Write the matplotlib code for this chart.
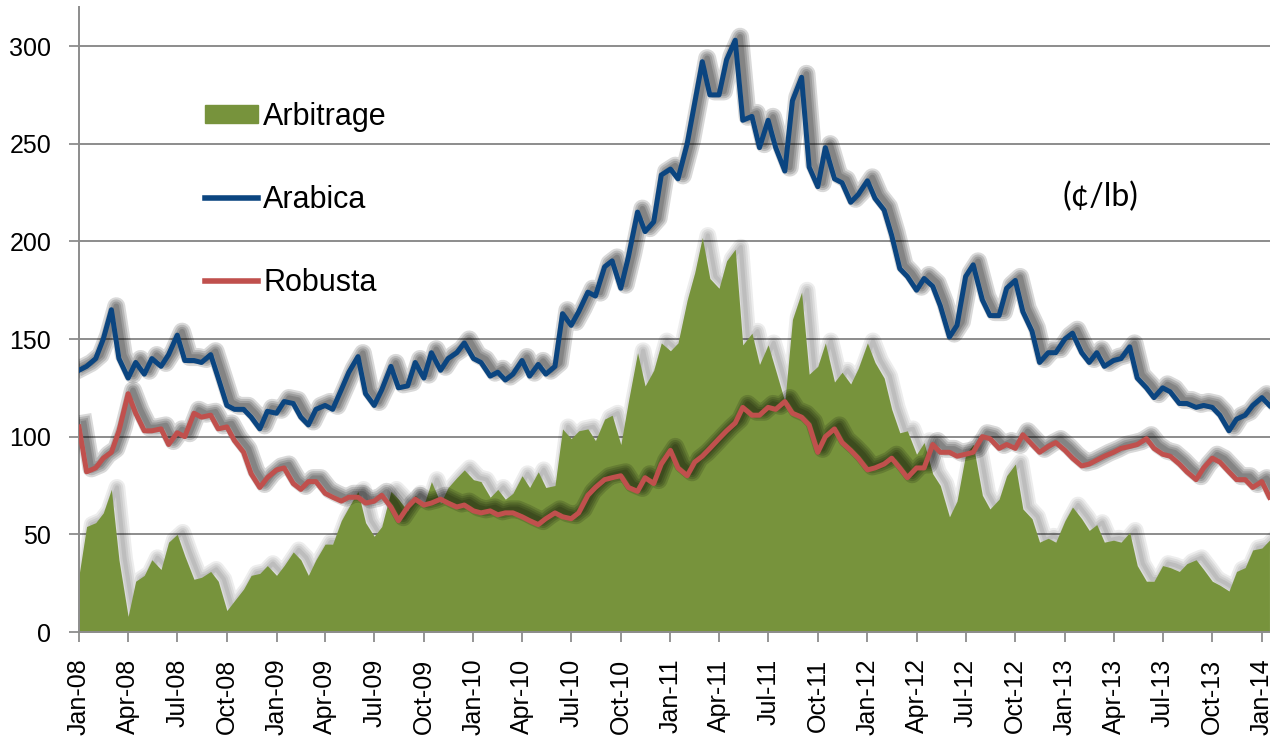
import matplotlib
matplotlib.use("Agg")
import matplotlib.pyplot as plt
import matplotlib.dates as mdates
import matplotlib.patheffects as pe
from matplotlib.patches import Patch
from matplotlib.lines import Line2D
import numpy as np
import pandas as pd

# --- DATA (c/lb, 1st and 15th of each month) ---
dates = pd.date_range("2008-01-01", "2014-01-15", freq="SMS")

arabica = [
    134, 136, 140, 150, 165, 140, 130, 138, 132, 140, 136, 142, 152, 139, 139, 138, 142, 130, 116, 114, 114, 110, 104, 113,  # 2008
    112, 118, 117, 110, 106, 114, 116, 114, 124, 133, 141, 122, 116, 124, 136, 125, 126, 138, 130, 143, 134, 140, 143, 148,  # 2009
    140, 138, 131, 133, 129, 132, 139, 131, 137, 132, 136, 163, 157, 164, 174, 172, 187, 190, 176, 192, 215, 205, 210, 234,  # 2010
    237, 232, 250, 271, 292, 275, 275, 293, 303, 262, 264, 248, 262, 248, 236, 272, 284, 238, 228, 248, 232, 230, 220, 224,  # 2011
    231, 222, 216, 203, 186, 182, 175, 181, 177, 167, 151, 157, 182, 188, 170, 162, 162, 176, 180, 164, 154, 138, 143, 143,  # 2012
    150, 153, 143, 138, 143, 136, 139, 140, 146, 130, 125, 120, 125, 123, 117, 117, 115, 116, 115, 111, 103, 109, 111, 116,  # 2013
    120, 116,  # 2014
]

robusta = [
    105, 82, 84, 89, 92, 103, 122, 112, 103, 103, 104, 96, 102, 100, 112, 110, 111, 104, 105, 98, 92, 81, 74, 79,  # 2008
    83, 84, 76, 73, 77, 77, 71, 69, 67, 69, 69, 66, 67, 70, 64, 57, 64, 68, 65, 66, 68, 66, 64, 65,  # 2009
    62, 61, 62, 60, 61, 61, 59, 57, 55, 58, 61, 59, 58, 61, 70, 74, 78, 79, 80, 74, 72, 79, 76, 86,  # 2010
    93, 84, 80, 87, 90, 94, 99, 103, 107, 115, 111, 111, 115, 114, 118, 112, 110, 106, 92, 100, 104, 97, 93, 89,  # 2011
    83, 84, 86, 89, 84, 79, 84, 84, 96, 92, 92, 90, 91, 92, 100, 99, 94, 96, 94, 101, 96, 92, 95, 97,  # 2012
    93, 89, 85, 86, 88, 90, 92, 94, 95, 96, 99, 94, 91, 90, 86, 82, 78, 84, 89, 87, 82, 78, 78, 74,  # 2013
    77, 69,  # 2014
]

# arbitrage = arabica minus robusta
arbitrage = np.array(arabica) - np.array(robusta)

GREEN = "#77933C"
BLUE = "#0B4580"
RED = "#C0504D"
GRID = "#8C8C8C"

plt.rcParams["font.family"] = ["Liberation Sans", "DejaVu Sans"]

fig = plt.figure(figsize=(12.7, 7.37), dpi=100)
ax = fig.add_axes([79 / 1270, 105 / 737, 1191 / 1270, 625 / 737])


def soft_shadow(offset, alpha, widths):
    return [pe.SimpleLineShadow(offset=offset, shadow_color="black", alpha=alpha, linewidth=w)
            for w in widths]


# Arbitrage area + its soft shadow
ax.plot(dates, arbitrage, color="black", zorder=1.5,
        path_effects=soft_shadow((4, 1.5), 0.07, (12, 9, 6, 3)))
ax.fill_between(dates, 0, arbitrage, color=GREEN, linewidth=0, zorder=2)

# Robusta and Arabica lines with shadow
line_shadow = soft_shadow((3.5, 2.5), 0.15, (13, 10, 7, 4))
ax.plot(dates, robusta, color=RED, lw=3.6, zorder=3,
        path_effects=line_shadow + [pe.Normal()])
ax.plot(dates, arabica, color=BLUE, lw=3.6, zorder=4,
        path_effects=line_shadow + [pe.Normal()])

# axes styling
ax.set_ylim(0, 320)
ax.set_xlim(pd.Timestamp("2008-01-01"), pd.Timestamp("2014-01-16"))
ax.set_yticks(range(0, 301, 50))
ax.yaxis.grid(True, color=GRID, lw=1.4, zorder=0.5)
ax.set_axisbelow(True)

ax.xaxis.set_major_locator(mdates.MonthLocator(bymonth=[1, 4, 7, 10]))
ax.xaxis.set_major_formatter(mdates.DateFormatter("%b-%y"))
for lbl in ax.get_xticklabels():
    lbl.set_rotation(90)

ax.tick_params(axis="y", labelsize=18, length=7, width=1.3, color=GRID, pad=13)
ax.tick_params(axis="x", labelsize=18, length=7, width=1.3, color=GRID, pad=12)
for s in ["top", "right"]:
    ax.spines[s].set_visible(False)
for s in ["left", "bottom"]:
    ax.spines[s].set_color(GRID)
    ax.spines[s].set_linewidth(1.4)

# legend
handles = [Patch(color=GREEN), Line2D([], [], color=BLUE, lw=4), Line2D([], [], color=RED, lw=4)]
ax.legend(handles, ["Arbitrage", "Arabica", "Robusta"], loc="center left",
          bbox_to_anchor=(205 / 1270, 1 - 200 / 737), bbox_transform=fig.transFigure,
          frameon=False, fontsize=22, handlelength=1.75, handleheight=0.55,
          handletextpad=0.15, labelspacing=1.75, borderpad=0, borderaxespad=0)

fig.text(1100 / 1270, 1 - 197 / 737, "(¢/lb)", ha="center", va="center",
         fontsize=23, family=["Lato", "DejaVu Sans"])

fig.savefig("out.png", dpi=100)
